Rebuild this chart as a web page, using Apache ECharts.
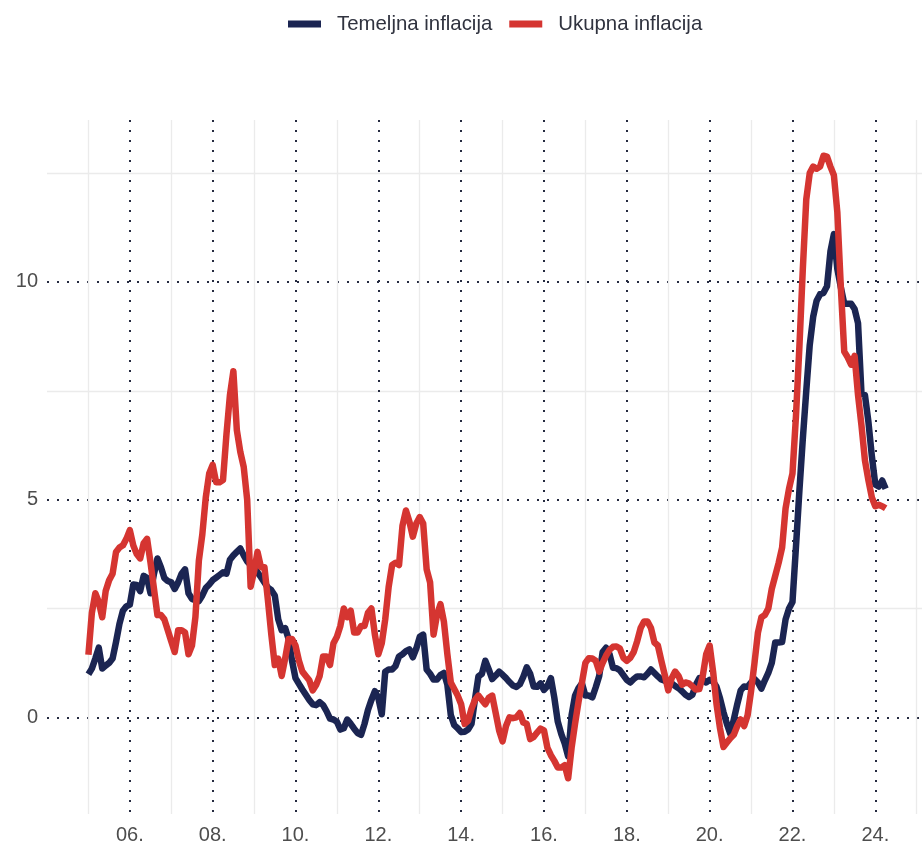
<!DOCTYPE html>
<html>
<head>
    <title>Inflacija</title>
    <meta http-equiv="content-type" content="text/html; charset=utf-8">
    <script src="https://cdn.jsdelivr.net/npm/echarts@6/dist/echarts.min.js"></script>
    <style type="text/css">
    html, body {
        margin: 0;
        padding: 0;
        background: #fff;
        overflow: hidden;
    }
    #main {
        width: 928px;
        height: 845px;
    }
    </style>
</head>
<body>
    <div id="main"></div>
    <script type="text/javascript">
    // monthly values, Jan 2005 .. Apr 2024
    var startYear = 2005;
    var seriesNames = ['Temeljna inflacija', 'Ukupna inflacija'];

    var temeljna = [
        0.99, 1.12, 1.35, 1.6, 1.12, 1.19, 1.25, 1.35, 1.73, 2.15, 2.45, 2.55,
        2.59, 3.05, 3.04, 2.9, 3.25, 3.2, 2.85, 3.3, 3.65, 3.45, 3.2, 3.13,
        3.1, 2.95, 3.1, 3.3, 3.4, 2.85, 2.72, 2.69, 2.67, 2.8, 2.97, 3.05,
        3.15, 3.21, 3.27, 3.33, 3.3, 3.62, 3.72, 3.8, 3.88, 3.72, 3.58, 3.5,
        3.44, 3.33, 3.22, 3.1, 2.98, 2.92, 2.8, 2.25, 2.0, 2.05, 1.8, 1.3,
        0.9, 0.77, 0.64, 0.52, 0.4, 0.3, 0.28, 0.35, 0.28, 0.14, -0.03, -0.05,
        -0.1, -0.28, -0.25, -0.05, -0.15, -0.26, -0.36, -0.4, -0.15, 0.17, 0.4, 0.6,
        0.45, 0.07, 1.05, 1.1, 1.1, 1.18, 1.4, 1.45, 1.52, 1.56, 1.38, 1.58,
        1.85, 1.9, 1.1, 1.0, 0.87, 0.87, 0.97, 1.02, 0.75, 0.05, -0.18, -0.25,
        -0.34, -0.33, -0.28, -0.15, 0.41, 0.94, 1.0, 1.3, 1.1, 0.88, 0.96, 1.05,
        0.98, 0.9, 0.81, 0.73, 0.7, 0.76, 0.93, 1.15, 1.0, 0.71, 0.7, 0.78,
        0.63, 0.72, 0.9, 0.45, -0.1, -0.38, -0.6, -0.9, 0.05, 0.5, 0.67, 0.78,
        0.5, 0.5, 0.46, 0.69, 0.95, 1.5, 1.6, 1.45, 1.14, 1.13, 1.08, 0.97,
        0.86, 0.8, 0.88, 0.94, 0.94, 0.92, 1.0, 1.1, 1.02, 0.94, 0.87, 0.84,
        0.82, 0.78, 0.72, 0.67, 0.6, 0.52, 0.47, 0.52, 0.75, 0.9, 0.87, 0.8,
        0.86, 0.82, 0.7, 0.44, 0.12, -0.15, -0.38, -0.05, 0.3, 0.62, 0.71, 0.7,
        0.8, 0.88, 0.8, 0.66, 0.85, 1.02, 1.25, 1.72, 1.72, 1.73, 2.25, 2.5,
        2.65, 3.9, 5.2, 6.4, 7.5, 8.55, 9.2, 9.57, 9.72, 9.75, 9.9, 10.7,
        11.1, 10.3, 9.88, 9.5, 9.5, 9.5, 9.38, 9.05, 7.43, 7.4, 6.79, 6.0,
        5.35, 5.3, 5.44, 5.25
    ];

    var ukupna = [
        1.44, 2.4, 2.85, 2.65, 2.3, 2.9, 3.15, 3.3, 3.8, 3.9, 3.95, 4.1,
        4.3, 3.95, 3.75, 3.65, 4.0, 4.1, 3.55, 2.95, 2.35, 2.35, 2.25, 2.0,
        1.75, 1.5, 2.0, 2.0, 1.95, 1.45, 1.65, 2.3, 3.6, 4.2, 5.05, 5.6,
        5.8, 5.4, 5.4, 5.45, 6.5, 7.4, 7.95, 6.6, 6.1, 5.75, 5.0, 3.0,
        3.35, 3.8, 3.45, 3.45, 2.7, 1.9, 1.2, 1.35, 0.95, 1.35, 1.8, 1.8,
        1.65, 1.3, 1.05, 0.95, 0.85, 0.62, 0.75, 0.95, 1.4, 1.4, 1.2, 1.7,
        1.85, 2.1, 2.5, 2.3, 2.45, 1.95, 1.95, 2.1, 2.1, 2.4, 2.5, 1.9,
        1.45, 1.7, 2.25, 3.0, 3.5, 3.55, 3.5, 4.4, 4.75, 4.5, 4.15, 4.45,
        4.6, 4.45, 3.4, 3.1, 1.9, 2.35, 2.6, 2.2, 1.45, 0.8, 0.65, 0.5,
        0.3, -0.15, -0.08, 0.2, 0.4, 0.5, 0.4, 0.3, 0.45, 0.5, 0.1, -0.3,
        -0.55, -0.2, 0.0, -0.02, 0.0, 0.1, -0.12, -0.15, -0.5, -0.45, -0.35, -0.26,
        -0.3, -0.7, -0.87, -1.0, -1.15, -1.15, -1.1, -1.4, -0.7, -0.15, 0.35, 0.8,
        1.25, 1.36, 1.35, 1.3, 1.05, 1.25, 1.42, 1.55, 1.62, 1.63, 1.58, 1.37,
        1.3, 1.37, 1.5, 1.75, 2.05, 2.2, 2.2, 2.05, 1.72, 1.65, 1.3, 0.97,
        0.62, 0.9, 1.05, 0.95, 0.75, 0.8, 0.78, 0.71, 0.64, 0.65, 0.95, 1.45,
        1.65, 1.05, 0.3, -0.25, -0.68, -0.58, -0.48, -0.4, -0.2, -0.05, -0.2, 0.05,
        0.6, 1.25, 1.95, 2.3, 2.35, 2.5, 2.95, 3.25, 3.55, 3.9, 4.8, 5.25,
        5.6, 6.9, 8.5, 10.3, 11.9, 12.5, 12.65, 12.6, 12.65, 12.9, 12.88, 12.65,
        12.45, 11.6, 9.9, 8.4, 8.27, 8.1, 8.3, 7.4, 6.7, 5.9, 5.45, 5.05,
        4.85, 4.88, 4.85, 4.8
    ];

    function toPoints(values) {
        return values.map(function (v, i) {
            return [startYear + i / 12, v];
        });
    }

    var dotted = { color: '#262b40', width: 2, type: [2, 8] };
    var faint = '#ebebeb';
    var none = 'rgba(0,0,0,0)';
    var labelStyle = { fontSize: 20, color: '#4d4d4d', fontFamily: 'Liberation Sans, Arial, sans-serif' };

    var myChart = echarts.init(document.getElementById('main'));

    myChart.setOption({
        animation: false,
        backgroundColor: '#fff',
        legend: {
            data: seriesNames,
            top: 9,
            left: 283,
            icon: 'rect',
            itemWidth: 33,
            itemHeight: 7,
            itemGap: 17,
            textStyle: {
                fontSize: 20.4,
                color: '#30333f',
                fontFamily: 'Liberation Sans, Arial, sans-serif',
                padding: [0, 0, 0, 11]
            }
        },
        grid: {
            left: 47,
            right: 0,
            top: 120,
            bottom: 30
        },
        xAxis: [{
            // odd years: light solid lines
            type: 'value',
            position: 'bottom',
            min: 2004,
            max: 2025.2,
            interval: 1,
            axisLine: { show: false },
            axisTick: { show: false },
            axisLabel: { show: false },
            splitLine: {
                show: true,
                showMinLine: false,
                showMaxLine: false,
                lineStyle: { color: [faint, none], width: 1.3 }
            }
        }, {
            // even years: dotted lines with labels
            type: 'value',
            position: 'bottom',
            min: 2004,
            max: 2025.2,
            interval: 2,
            axisLine: { show: false },
            axisTick: { show: false },
            axisLabel: Object.assign({
                margin: 11,
                formatter: function (v) {
                    if (v % 2 !== 0 || v <= 2004) return '';
                    return String(v).slice(2) + '.';
                }
            }, labelStyle),
            splitLine: {
                show: true,
                showMinLine: false,
                showMaxLine: false,
                lineStyle: dotted
            }
        }],
        yAxis: [{
            type: 'value',
            position: 'left',
            min: -2.22,
            max: 13.72,
            minInterval: 2.5,
            maxInterval: 2.5,
            axisLine: { show: false },
            axisTick: { show: false },
            axisLabel: { show: false },
            splitLine: {
                show: true,
                showMinLine: false,
                showMaxLine: false,
                lineStyle: { color: [none, faint], width: 1.3 }
            }
        }, {
            type: 'value',
            position: 'left',
            min: -2.22,
            max: 13.72,
            minInterval: 5,
            maxInterval: 5,
            axisLine: { show: false },
            axisTick: { show: false },
            axisLabel: Object.assign({
                margin: 9,
                formatter: function (v) {
                    return (Math.abs(v % 5) < 1e-9) ? String(v) : '';
                }
            }, labelStyle),
            splitLine: {
                show: true,
                showMinLine: false,
                showMaxLine: false,
                lineStyle: dotted
            }
        }],
        series: [{
            name: seriesNames[0],
            type: 'line',
            xAxisIndex: 1,
            yAxisIndex: 1,
            showSymbol: false,
            data: toPoints(temeljna),
            itemStyle: { color: '#1b2552' },
            lineStyle: { color: '#1b2552', width: 6.5, join: 'round' }
        }, {
            name: seriesNames[1],
            type: 'line',
            xAxisIndex: 1,
            yAxisIndex: 1,
            showSymbol: false,
            data: toPoints(ukupna),
            itemStyle: { color: '#d53531' },
            lineStyle: { color: '#d53531', width: 6.5, join: 'round' }
        }]
    });
    </script>
</body>
</html>
